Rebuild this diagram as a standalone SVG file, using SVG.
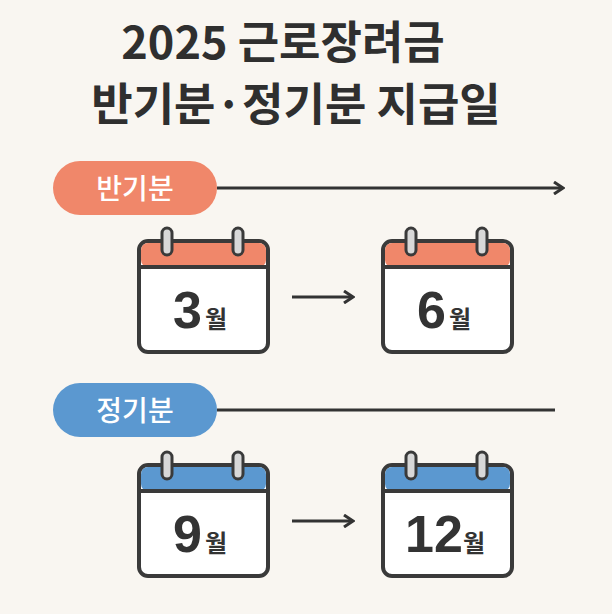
<svg xmlns="http://www.w3.org/2000/svg" width="612" height="614" viewBox="0 0 612 614">
<defs>
<style>
.t{font-family:"Noto Sans CJK KR","Noto Sans",sans-serif;font-weight:700;fill:#2f2f2f}
.cal{fill:#fff;stroke:#3a3a3a;stroke-width:4}
.ring{fill:#d8d8d8;stroke:#3a3a3a;stroke-width:3}
.ln{stroke:#333;stroke-width:3;fill:none}
.num{font-family:"Liberation Sans",Arial,sans-serif;font-weight:700;font-size:52px;fill:#333}
.wol{font-family:"Noto Sans CJK KR",sans-serif;font-weight:700;font-size:24px;fill:#333}
</style>
<marker id="ah" viewBox="0 0 12 14" refX="10" refY="7" markerWidth="12" markerHeight="14" markerUnits="userSpaceOnUse" orient="auto"><path d="M1,1 L10,7 L1,13" fill="none" stroke="#333" stroke-width="3"/></marker>
<rect id="box" class="cal" x="0" y="0" width="129" height="111" rx="9"/>
<g id="top">
<line x1="0" y1="26" x2="129" y2="26" stroke="#3a3a3a" stroke-width="4"/>
<rect class="ring" x="23" y="-13" width="10" height="27" rx="5"/>
<rect class="ring" x="94" y="-13" width="10" height="27" rx="5"/>
</g>
</defs>
<rect width="612" height="614" fill="#f9f6f1"/>
<g id="title">
<text class="t" x="283" y="59" font-size="45" text-anchor="middle">2025 근로장려금</text>
<text class="t" x="296" y="121" font-size="45" text-anchor="middle">반기분·정기분 지급일</text>
</g>
<g id="connectors">
<line class="ln" x1="217" y1="188" x2="563" y2="188" marker-end="url(#ah)"/>
<line class="ln" x1="217" y1="410" x2="555" y2="410"/>
<line class="ln" x1="292" y1="297" x2="353" y2="297" marker-end="url(#ah)"/>
<line class="ln" x1="292" y1="521" x2="353" y2="521" marker-end="url(#ah)"/>
</g>
<g id="label1"><rect x="53" y="161" width="164" height="54" rx="27" fill="#f0876a"/><text x="135" y="199" font-family="Noto Sans CJK KR,sans-serif" font-size="28" font-weight="500" fill="#fff" text-anchor="middle">반기분</text></g>
<g id="label2"><rect x="53" y="383" width="164" height="54" rx="27" fill="#5b98d0"/><text x="135" y="421" font-family="Noto Sans CJK KR,sans-serif" font-size="28" font-weight="500" fill="#fff" text-anchor="middle">정기분</text></g>
<g id="cal3" transform="translate(139,241)">
<use href="#box"/><rect x="2" y="2" width="125" height="24" rx="7" fill="#f0876a"/><use href="#top"/>
<text class="num" x="34" y="87">3</text><text class="wol" x="66" y="87">월</text></g>
<g id="cal6" transform="translate(383,241)">
<use href="#box"/><rect x="2" y="2" width="125" height="24" rx="7" fill="#f0876a"/><use href="#top"/>
<text class="num" x="34" y="87">6</text><text class="wol" x="66" y="87">월</text></g>
<g id="cal9" transform="translate(139,465)">
<use href="#box"/><rect x="2" y="2" width="125" height="24" rx="7" fill="#5b98d0"/><use href="#top"/>
<text class="num" x="34" y="87">9</text><text class="wol" x="66" y="87">월</text></g>
<g id="cal12" transform="translate(383,465)">
<use href="#box"/><rect x="2" y="2" width="125" height="24" rx="7" fill="#5b98d0"/><use href="#top"/>
<text class="num" x="22" y="87">12</text><text class="wol" x="80" y="87">월</text></g>
</svg>
